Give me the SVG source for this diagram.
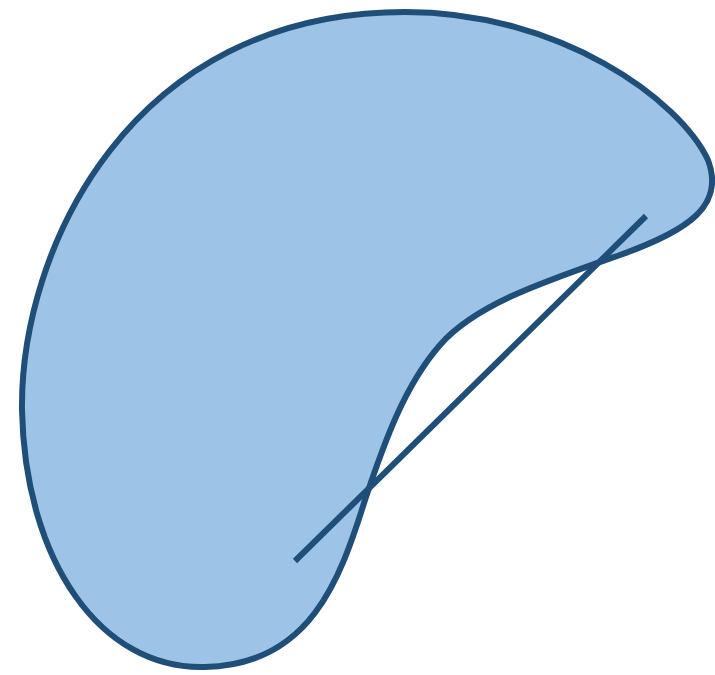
<svg xmlns="http://www.w3.org/2000/svg" width="715" height="675" viewBox="0 0 715 675">
<style>
.shape{fill:#9dc3e6;stroke:#1f4e79;stroke-width:6;stroke-linejoin:round}
.ln{stroke:#1f4e79;stroke-width:6;fill:none}
</style>
<g id="blob">
<path class="shape" d="M 405 12 C 560 12 680 100 708 160 C 725 205 690 230 620 255 C 540 283 475 305 440 345 C 405 385 385 440 365 500 C 340 580 310 665 205 667 C 100 670 25 560 22 410 C 20 250 130 12 405 12 Z"/>
</g>
<g id="connectors">
<line class="ln" x1="295" y1="561" x2="646" y2="216"/>
</g>
</svg>
